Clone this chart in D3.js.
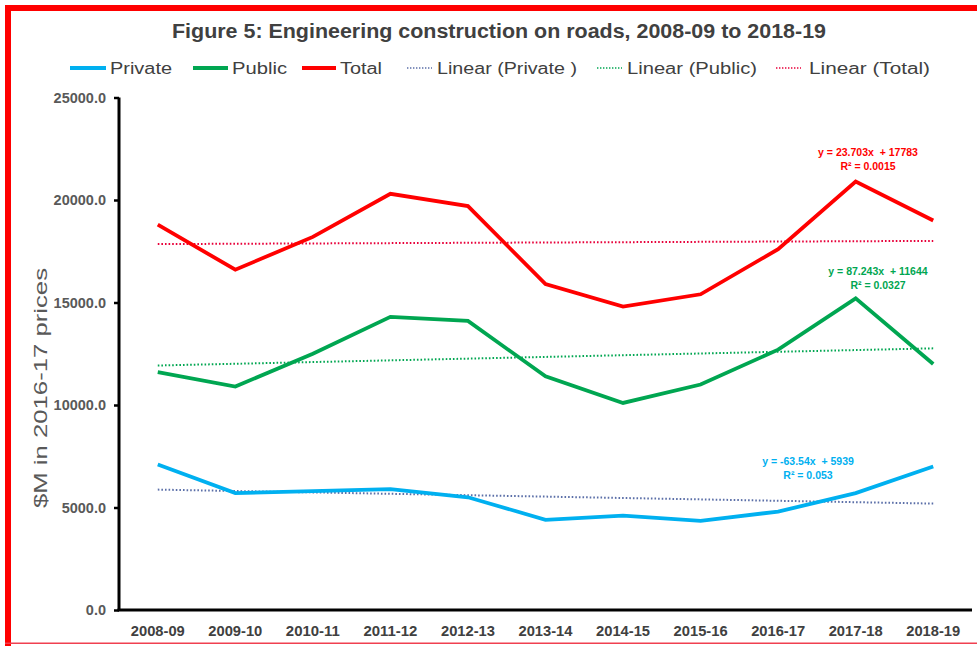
<!DOCTYPE html>
<html><head><meta charset="utf-8">
<script src="https://cdn.jsdelivr.net/npm/d3@7"></script>
<style>body{margin:0;background:#fff}svg{display:block}text{font-family:"Liberation Sans",Arial,sans-serif}</style>
</head><body>
<script>
const categories = ["2008-09","2009-10","2010-11","2011-12","2012-13","2013-14","2014-15","2015-16","2016-17","2017-18","2018-19"];
const privateVals = [7100,5700,5800,5900,5500,4400,4600,4350,4800,5700,7000];
const publicVals  = [11600,10900,12500,14300,14100,11400,10100,11000,12700,15200,12000];
const totalVals   = [18800,16600,18200,20300,19700,15900,14800,15400,17600,20900,19000];
const yTicks = [0,5000,10000,15000,20000,25000];
const seriesNames = ["Private","Public","Total"];
const seriesColors = ["#00B0F0","#00A651","#FF0000"];
const trendColors = ["#5B6FA8","#00A651","#E8003A"];
const eqLabels = [["y = -63.54x  + 5939","R² = 0.053"],["y = 87.243x  + 11644","R² = 0.0327"],["y = 23.703x  + 17783","R² = 0.0015"]];
const legendNames = ["Private","Public","Total","Linear (Private )","Linear (Public)","Linear (Total)"];

const W=977,H=646;
const svg=d3.select("body").append("svg").attr("width",W).attr("height",H);
svg.append("rect").attr("width",W).attr("height",H).attr("fill","#fff");
// border
svg.append("rect").attr("x",5).attr("y",5).attr("width",W-5).attr("height",6).attr("fill","#FF0000");
svg.append("rect").attr("x",5).attr("y",5).attr("width",6).attr("height",H-5).attr("fill","#FF0000");
svg.append("rect").attr("x",5).attr("y",642.5).attr("width",W-5).attr("height",1.5).attr("fill","#F04050");

const x=d3.scaleBand().domain(categories).range([119,972]).paddingInner(0).paddingOuter(0);
const y=d3.scaleLinear().domain([0,25000]).range([610,97.5]);
const cx=c=>x(c)+x.bandwidth()/2;

// title
svg.append("text").attr("x",499).attr("y",38).attr("text-anchor","middle")
  .attr("font-size",20).attr("font-weight","bold").attr("fill","#404040")
  .attr("textLength",654).attr("lengthAdjust","spacingAndGlyphs")
  .text("Figure 5: Engineering construction on roads, 2008-09 to 2018-19");

// axes
const yAxis=svg.append("g").attr("transform","translate(119,0)")
  .call(d3.axisLeft(y).tickValues(yTicks).tickFormat(d3.format(".1f")).tickSize(5).tickPadding(8));
yAxis.select(".domain").attr("stroke","#000").attr("stroke-width",3).attr("d","M0,97.5V610");
yAxis.selectAll(".tick line").attr("stroke","#000").attr("stroke-width",2.5);
yAxis.selectAll(".tick text").attr("font-size",14.5).attr("font-weight","bold").attr("fill","#595959")
  .attr("font-family","Liberation Sans, Arial, sans-serif");

const xAxis=svg.append("g").attr("transform","translate(0,610)")
  .call(d3.axisBottom(x).tickSize(0).tickPadding(16));
xAxis.select(".domain").attr("stroke","#000").attr("stroke-width",3).attr("d","M117.5,0H972");
xAxis.selectAll(".tick text").attr("font-size",14).attr("font-weight","bold").attr("fill","#404040")
  .attr("font-family","Liberation Sans, Arial, sans-serif")
  .attr("textLength",54).attr("lengthAdjust","spacingAndGlyphs");

// y title
svg.append("text").attr("transform","translate(47,388) rotate(-90)").attr("text-anchor","middle")
  .attr("font-size",17.5).attr("fill","#595959")
  .attr("textLength",240).attr("lengthAdjust","spacingAndGlyphs")
  .text("$M in 2016-17 prices");

const allSeries=[privateVals,publicVals,totalVals];
const line=d3.line().x((d,i)=>cx(categories[i])).y(d=>y(d));

// trendlines (least squares on x=1..n)
allSeries.forEach((vals,k)=>{
  const xs=vals.map((d,i)=>i+1);
  const mx=d3.mean(xs), my=d3.mean(vals);
  const b=d3.sum(xs.map((xi,i)=>(xi-mx)*(vals[i]-my)))/d3.sum(xs.map(xi=>(xi-mx)**2));
  const a=my-b*mx;
  const fit=xs.map(xi=>a+b*xi);
  svg.append("path").datum(fit).attr("d",line).attr("fill","none")
    .attr("stroke",trendColors[k]).attr("stroke-width",2).attr("stroke-dasharray","1.6,2");
});

allSeries.forEach((vals,k)=>{
  svg.append("path").datum(vals).attr("d",line).attr("fill","none")
    .attr("stroke",seriesColors[k]).attr("stroke-width",3.8).attr("stroke-linejoin","miter");
});

// equation labels
const eqPos=[[808,465],[878,275],[868,156]];
eqLabels.forEach((lines,k)=>{
  lines.forEach((t,j)=>{
    svg.append("text").attr("x",eqPos[k][0]).attr("y",eqPos[k][1]+j*13.5).attr("text-anchor","middle")
      .style("white-space","pre")
      .attr("font-size",10.5).attr("font-weight","bold").attr("fill",seriesColors[k]).text(t);
  });
});

// legend
const legX=[[70,106,110],[193,228,232],[302,336,340],[407,432,437],[597,622,627],[776,801,809]];
const legW=[62,55,42,140,130,121];
legendNames.forEach((nm,i)=>{
  const g=svg.append("g");
  const isTrend=i>=3;
  g.append("line").attr("x1",legX[i][0]).attr("x2",legX[i][1]).attr("y1",68).attr("y2",68)
    .attr("stroke",isTrend?trendColors[i-3]:seriesColors[i]).attr("stroke-width",isTrend?1.6:3.8)
    .attr("stroke-dasharray",isTrend?"1.4,1.6":null);
  g.append("text").attr("x",legX[i][2]).attr("y",74).attr("font-size",16).attr("fill","#404040")
    .attr("textLength",legW[i]).attr("lengthAdjust","spacingAndGlyphs").text(nm);
});
</script>
</body></html>
